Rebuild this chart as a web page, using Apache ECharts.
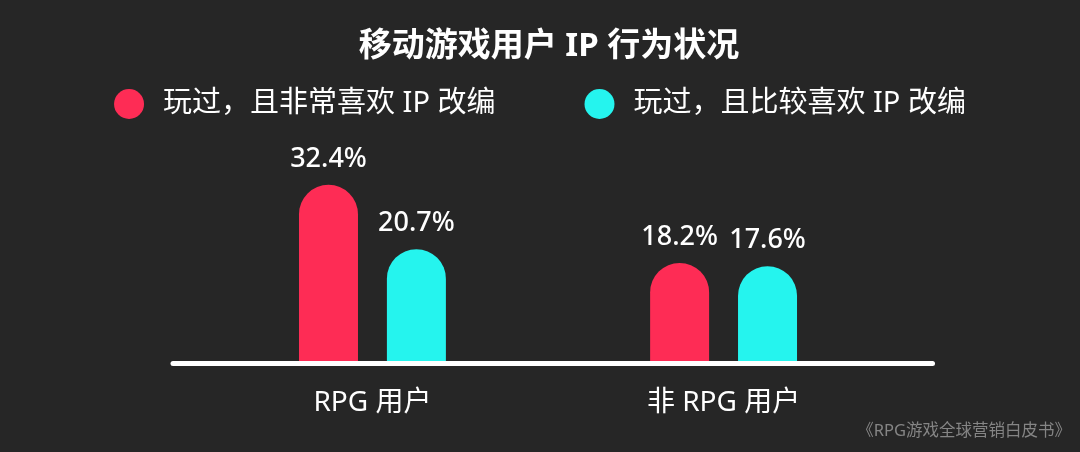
<!DOCTYPE html>
<html>
<head>
<meta charset="utf-8">
<script src="https://cdn.jsdelivr.net/npm/echarts@6/dist/echarts.min.js"></script>
<style>
html,body{margin:0;padding:0;background:#262626;}
#chart{width:1080px;height:452px;}
</style>
</head>
<body>
<div id="chart"></div>
<script>
const titleText = '移动游戏用户 IP 行为状况';
const sourceText = '《RPG游戏全球营销白皮书》';
const categories = ['RPG 用户', '非 RPG 用户'];
const seriesNames = ['玩过，且非常喜欢 IP 改编', '玩过，且比较喜欢 IP 改编'];
const veryLike = [32.4, 18.2];
const fairlyLike = [20.7, 17.6];
const colors = ['#fe2c55', '#25f4ee'];

const FONT = '"Noto Sans", "Noto Sans CJK SC", sans-serif';
const chart = echarts.init(document.getElementById('chart'), null, {renderer: 'canvas'});

function toPoints(arr) { return arr.map((v, i) => [i, v]); }

function barSeries(name, values, color) {
  return {
    name: name,
    type: 'bar',
    data: toPoints(values),
    barWidth: 59,
    barGap: '49%',
    clip: false,
    itemStyle: { color: color, borderRadius: [29.5, 29.5, 0, 0] },
    label: {
      show: true,
      position: 'top',
      distance: 12,
      color: '#ffffff',
      fontSize: 27,
      fontWeight: 500,
      fontFamily: FONT,
      formatter: p => p.value[1] + '%'
    }
  };
}

chart.setOption({
  animation: false,
  backgroundColor: '#262626',
  title: [
    {
      text: titleText,
      left: 544,
      textAlign: 'center',
      top: 25,
      textStyle: { color: '#ffffff', fontSize: 33, fontWeight: 'bold', fontFamily: FONT }
    },
    {
      text: sourceText,
      right: 9,
      top: 423,
      padding: 0,
      textStyle: { color: '#858585', fontSize: 16.5, fontWeight: 'normal', fontFamily: FONT }
    }
  ],
  legend: {
    left: 'center',
    top: 84,
    icon: 'circle',
    itemWidth: 30,
    itemHeight: 30,
    itemGap: 89,
    data: seriesNames,
    textStyle: { color: '#ffffff', fontSize: 29, fontFamily: FONT, padding: [0, 0, 0, 14] }
  },
  grid: { left: 173, right: 147.5, top: 143, bottom: 89, containLabel: false },
  xAxis: {
    type: 'value',
    min: -0.568,
    max: 1.595,
    z: 3,
    axisLine: { show: true, onZero: false, lineStyle: { color: '#ffffff', width: 5, cap: 'round' } },
    axisTick: { show: false },
    splitLine: { show: false },
    axisLabel: {
      customValues: [0, 1],
      formatter: v => categories[Math.round(v)] || '',
      color: '#ffffff',
      fontSize: 28,
      fontFamily: FONT,
      margin: 26
    }
  },
  yAxis: { type: 'value', min: 0, max: 40, show: false },
  series: [
    barSeries(seriesNames[0], veryLike, colors[0]),
    barSeries(seriesNames[1], fairlyLike, colors[1])
  ]
});
</script>
</body>
</html>
